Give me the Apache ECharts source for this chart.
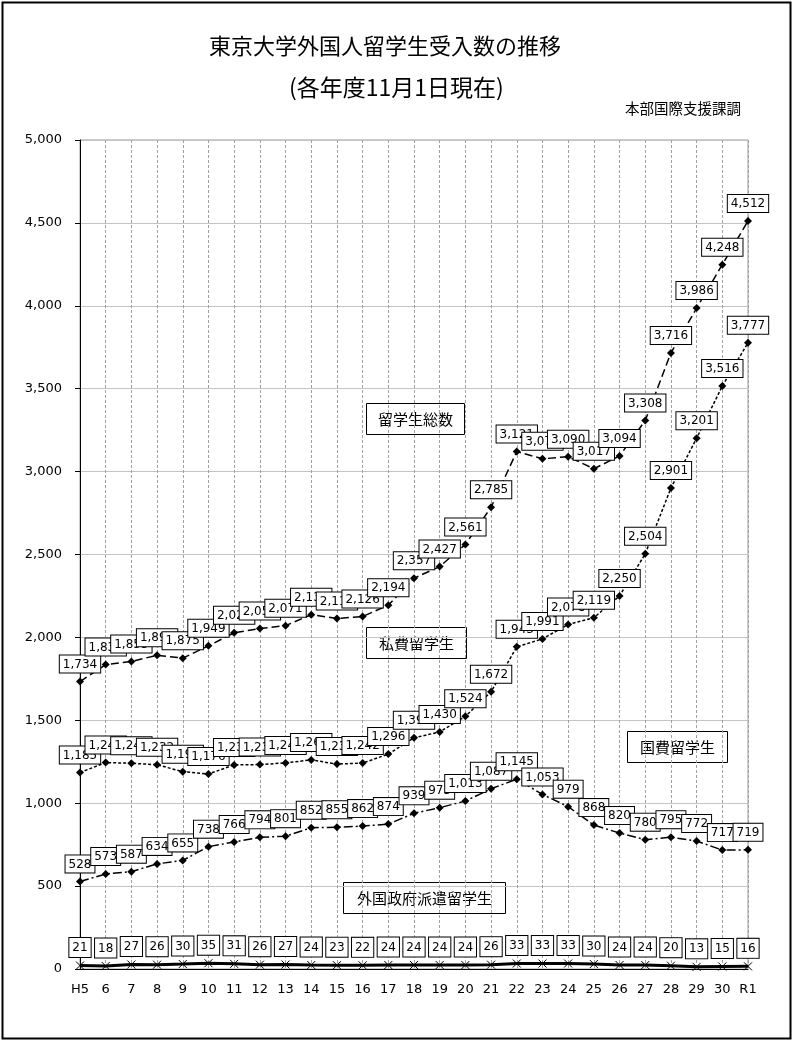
<!DOCTYPE html>
<html>
<head>
<meta charset="utf-8">
<script src="https://cdn.jsdelivr.net/npm/echarts@6/dist/echarts.min.js"></script>
<style>
html,body{margin:0;padding:0;background:#fff;}
#chart{width:792px;height:1040px;}
</style>
</head>
<body>
<div id="chart"></div>
<script>
var categories = ['H5','6','7','8','9','10','11','12','13','14','15','16','17','18','19','20','21','22','23','24','25','26','27','28','29','30','R1'];
var totalValues = [1734,1836,1855,1892,1875,1949,2028,2053,2071,2137,2114,2126,2194,2357,2427,2561,2785,3121,3077,3090,3017,3094,3308,3716,3986,4248,4512];
var privateValues = [1185,1245,1241,1232,1190,1176,1231,1233,1243,1261,1236,1242,1296,1394,1430,1524,1672,1943,1991,2078,2119,2250,2504,2901,3201,3516,3777];
var govValues = [528,573,587,634,655,738,766,794,801,852,855,862,874,939,973,1013,1087,1145,1053,979,868,820,780,795,772,717,719];
var foreignValues = [21,18,27,26,30,35,31,26,27,24,23,22,24,24,24,24,26,33,33,33,30,24,24,20,13,15,16];
var yTicks = {min:0, max:5000, interval:500};

var seriesNames = ['留学生総数','私費留学生','国費留学生','外国政府派遣留学生'];

function fmt(v){
  return String(v).replace(/\B(?=(\d{3})+(?!\d))/g, ',');
}

var numFont = 'DejaVu Sans';
var jpFont = 'Noto Sans CJK JP';

var labelStyle = {
  show: true,
  position: 'top',
  distance: 5,
  formatter: function(p){ return fmt(p.value); },
  fontFamily: numFont,
  fontSize: 12,
  color: '#000',
  backgroundColor: '#fff',
  borderColor: '#000',
  borderWidth: 1,
  padding: [3, 3, 2, 3]
};

function lineSeries(name, data, dash, width, symbol, size, extraLabel){
  return {
    name: name,
    type: 'line',
    data: data,
    symbol: symbol,
    symbolSize: size,
    showAllSymbol: true,
    animation: false,
    lineStyle: {color: '#000', width: width, type: dash},
    itemStyle: {color: '#000', borderColor: '#000', borderWidth: symbol === 'diamond' ? 0 : 1},
    label: Object.assign({}, labelStyle, extraLabel || {}),
    z: 3
  };
}

function annot(x, y, w, h, text){
  return {
    type: 'group',
    left: x, top: y,
    z: 100,
    children: [
      {type:'rect', shape:{x:0,y:0,width:w,height:h}, style:{fill:'#fff', stroke:'#000', lineWidth:1}},
      {type:'text', style:{x:w/2, y:h/2, text:text, align:'center', verticalAlign:'middle', font:'15px "' + jpFont + '"', fill:'#000'}}
    ]
  };
}

var chart = echarts.init(document.getElementById('chart'));
chart.setOption({
  backgroundColor: '#fff',
  animation: false,
  grid: {left: 80, right: 44, top: 140, bottom: 71, show: true, borderColor: '#9a9a9a', borderWidth: 1},
  xAxis: {
    type: 'category',
    data: categories,
    boundaryGap: false,
    axisLine: {lineStyle: {color: '#000', width: 1}},
    axisTick: {show: false},
    axisLabel: {color: '#000', fontFamily: numFont, fontSize: 13, margin: 14, interval: 0},
    splitLine: {show: true, lineStyle: {color: '#a0a0a0', type: [3, 2], width: 1}}
  },
  yAxis: {
    type: 'value',
    min: yTicks.min, max: yTicks.max, interval: yTicks.interval,
    axisLine: {show: true, lineStyle: {color: '#000', width: 1}},
    axisTick: {show: true, inside: false, length: 5, lineStyle: {color: '#000'}},
    axisLabel: {color: '#000', fontFamily: numFont, fontSize: 13, margin: 18, formatter: function(v){ return fmt(v); }},
    splitLine: {show: true, lineStyle: {color: '#c4c4c4', width: 1}}
  },
  series: [
    lineSeries(seriesNames[0], totalValues, [8, 4], 1.5, 'diamond', 8),
    lineSeries(seriesNames[1], privateValues, [3, 2], 1.5, 'diamond', 8),
    lineSeries(seriesNames[2], govValues, [9, 3, 2, 3], 1.5, 'diamond', 8),
    lineSeries(seriesNames[3], foreignValues, 'solid', 3, 'path://M0,0L10,10M10,0L0,10', 8, {padding: [4, 3, 3, 3], distance: 4})
  ],
  graphic: [
    {type:'rect', left:0, top:0, shape:{x:1,y:1,width:788,height:1036}, style:{fill:'none', stroke:'#000', lineWidth:2}, z:0, silent:true},
    {type:'text', left:209, top:35, style:{text:'東京大学外国人留学生受入数の推移', font:'22px "' + jpFont + '"', fill:'#000'}, z:100},
    {type:'text', left:289, top:76, style:{text:'(各年度11月1日現在)', font:'23px "' + jpFont + '"', fill:'#000'}, z:100},
    {type:'text', left:625, top:101, style:{text:'本部国際支援課調', font:'14.5px "' + jpFont + '"', fill:'#000'}, z:100},
    annot(366, 403, 98, 31, '留学生総数'),
    annot(366, 627, 100, 31, '私費留学生'),
    annot(627, 731, 100, 31, '国費留学生'),
    annot(343, 882, 162, 31, '外国政府派遣留学生')
  ]
});
</script>
</body>
</html>
